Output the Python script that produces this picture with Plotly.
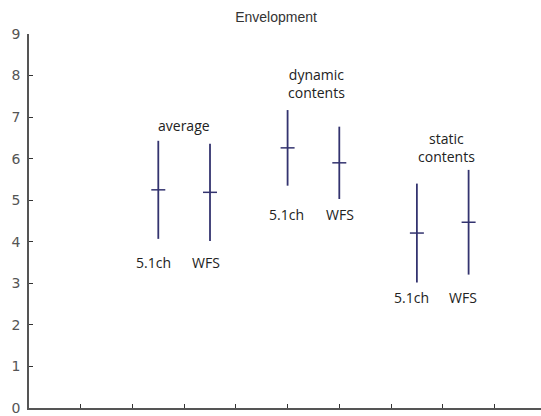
import plotly.graph_objects as go

# Data
systems = ["5.1ch", "WFS", "5.1ch", "WFS", "5.1ch", "WFS"]
groups = ["average", "dynamic<br>contents", "static<br>contents"]
x_pos = [2.5, 3.5, 5.0, 6.0, 7.5, 8.5]
means = [5.25, 5.19, 6.26, 5.90, 4.21, 4.47]
errors = [1.18, 1.17, 0.91, 0.87, 1.19, 1.26]
y_ticks = [0, 1, 2, 3, 4, 5, 6, 7, 8, 9]
x_ticks = [1, 2, 3, 4, 5, 6, 7, 8, 9]

# label placements (data coordinates)
group_label_x = [3.0, 5.56, 8.08]
group_label_y = [6.8, 7.82, 6.27]
sys_label_x = [2.4, 3.42, 4.98, 6.01, 7.4, 8.39]
sys_label_y = [3.49, 3.49, 4.65, 4.65, 2.65, 2.65]

bar_color = "#33336f"
text_font = dict(family="Open Sans, Noto Sans, sans-serif", size=14, color="#222")

fig = go.Figure()
fig.add_trace(go.Scatter(
    x=x_pos, y=means, mode="markers",
    marker=dict(symbol="line-ew", size=10, line=dict(color=bar_color, width=1.5), color=bar_color),
    error_y=dict(type="data", array=errors, visible=True, width=0, thickness=1.8, color=bar_color),
    showlegend=False, hoverinfo="skip",
))

annotations = []
for gx, gy, g in zip(group_label_x, group_label_y, groups):
    annotations.append(dict(x=gx, y=gy, xref="x", yref="y", text=g, showarrow=False,
                            font=text_font, align="center"))
for sx, sy, s in zip(sys_label_x, sys_label_y, systems):
    annotations.append(dict(x=sx, y=sy, xref="x", yref="y", text=s, showarrow=False,
                            font=text_font))

fig.update_layout(
    width=541, height=416,
    margin=dict(l=29, r=0, t=34, b=8, autoexpand=False),
    paper_bgcolor="white", plot_bgcolor="white",
    title=dict(text="Envelopment", x=276/541, xanchor="center", xref="container",
               y=1 - 17/416, yanchor="middle", yref="container",
               font=dict(family="Liberation Sans, Arial, sans-serif", size=14, color="#333")),
    annotations=annotations,
    xaxis=dict(range=[0, 9.9], tickvals=x_ticks, showticklabels=False, ticks="inside",
               ticklen=4, tickcolor="#333", tickwidth=1.2, showline=True, linecolor="#555",
               linewidth=1.6, showgrid=False, zeroline=False, automargin=False),
    yaxis=dict(range=[0, 9], tickvals=y_ticks, ticks="inside", ticklen=4, tickcolor="#333",
               tickwidth=1.2, showline=True, linecolor="#555", linewidth=1.6, showgrid=False,
               zeroline=False, automargin=False, ticklabelstandoff=4,
               tickfont=dict(family="DejaVu Sans, sans-serif", size=14, color="#555")),
)

fig.write_html("out.html", config={"displayModeBar": False},
               post_script="document.body.style.margin='0px';document.body.style.overflow='hidden';")
